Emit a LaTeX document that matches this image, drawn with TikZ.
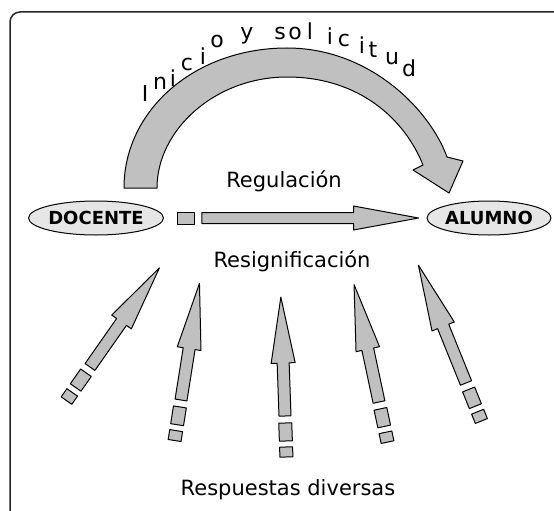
\documentclass[tikz,border=0pt]{standalone}
\usepackage{fontspec}
\setmainfont{DejaVu Sans}
\usetikzlibrary{positioning,calc,shapes.geometric}
\definecolor{grisflecha}{HTML}{C0C0C0}
\definecolor{grisclaro}{HTML}{E6E6E6}
\tikzset{
  relleno/.style={draw=black, fill=grisflecha, line width=1pt, line join=round},
  actor/.style={ellipse, draw, fill=grisclaro, line width=1pt, inner sep=0pt,
    minimum width=120pt, minimum height=34pt, font=\fontsize{18}{18}\selectfont\bfseries},
  rotulo/.style={font=\fontsize{21}{21}\selectfont, inner sep=0pt},
  letra/.style={font=\fontsize{22}{22}\selectfont, inner sep=0pt}
}
\begin{document}
\begin{tikzpicture}[x=1pt, y=-1pt]
    \useasboundingbox (0,0) rectangle (554,511);
    \draw[line width=1.5pt, black!85, rounded corners=10pt] (10,511) -- (10,12) -- (554,12);
    \node[actor] (docente) at (96,218) {DOCENTE};
    \node[actor] (alumno) at (489,218) {ALUMNO};
    \node[relleno, minimum width=17pt, minimum height=12pt, inner sep=0pt, right=13pt of docente] (cuadro) {};
    \coordinate (ini) at ($(cuadro.east)+(7,0)$);
    \coordinate (fin) at ($(alumno.west)+(-8,0)$);
    \draw[relleno] ($(ini)+(0,-5.5)$) -- ($(fin)+(-65,-5.5)$) -- ($(fin)+(-65,-12)$) -- (fin)
        -- ($(fin)+(-65,12)$) -- ($(fin)+(-65,5.5)$) -- ($(ini)+(0,5.5)$) -- cycle;
    \draw[relleno] (124,188) .. controls (124,110) and (195,48) .. (287,48)
        .. controls (370,48) and (430,110) .. (447,157) -- (463,161) -- (449,193) -- (413,170) -- (423,165)
        .. controls (405,120) and (360,77) .. (287,77) .. controls (215,77) and (157,130) .. (157,188) -- cycle;
    \foreach \bx/\by/\ang/\lon in {90/367/55/121, 181/400/81/118, 285/416/92/119, 379/402/102/120, 466/383/112/127} {
      \begin{scope}[shift={(\bx,\by)}, rotate=\ang]
        \draw[relleno] (0,-6) -- (\lon-66,-6) -- (\lon-66,-12) -- (\lon,0) -- (\lon-66,12) -- (\lon-66,6) -- (0,6) -- cycle;
        \draw[relleno] (-7,-6.5) rectangle (-25,6.5);
        \draw[relleno] (-31,-6.5) rectangle (-41,6.5);
      \end{scope}
    }
    \foreach \l/\lx/\ly [count=\i] in {I/145/93, n/160/83, i/173/78, c/187/64, i/203/56, o/217/41, y/247/36,
        s/280/33, o/295/33, l/310/31, i/330/36, c/344/40, i/362/45, t/373/50, u/392/58, d/409/68}
      \node[letra] (letra\i) at (\lx,\ly) {\l};
    \node[rotulo, anchor=base] (regulacion) at (284,187) {Regulación};
    \node[rotulo, anchor=base] (resignificacion) at (292,267) {Resignificación};
    \node[rotulo, anchor=base] (respuestas) at (288,495) {Respuestas diversas};
\end{tikzpicture}
\end{document}
